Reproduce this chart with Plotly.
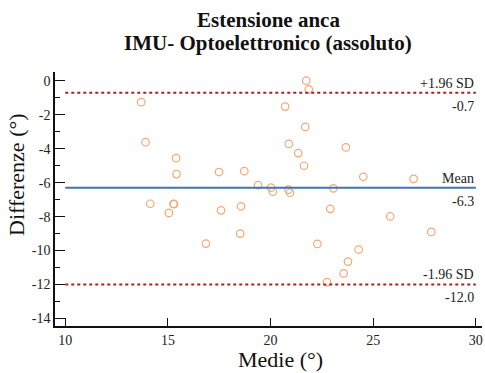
import plotly.graph_objects as go

# Bland-Altman: mean of the two methods vs. their difference
medie = [13.70, 13.91, 15.40, 15.42, 17.49, 18.72, 14.14, 15.27, 15.30, 15.05,
         17.59, 18.56, 18.52, 16.85, 21.74, 21.86, 20.71, 21.69, 20.89, 23.67,
         21.35, 21.63, 24.52, 19.39, 20.02, 20.11, 20.87, 20.95, 23.06, 26.97,
         22.91, 25.83, 22.28, 24.29, 23.77, 23.56, 22.75, 27.83]
differenze = [-1.25, -3.61, -4.55, -5.49, -5.37, -5.32, -7.24, -7.24, -7.26, -7.78,
              -7.63, -7.39, -9.00, -9.59, 0.02, -0.49, -1.51, -2.71, -3.71, -3.92,
              -4.25, -5.00, -5.65, -6.14, -6.29, -6.53, -6.41, -6.59, -6.33, -5.77,
              -7.54, -7.99, -9.61, -9.94, -10.65, -11.35, -11.86, -8.90]

mean_diff = -6.3
upper_loa = -0.7
lower_loa = -12.0
x_span = [10, 30]

x_ticks = [10, 15, 20, 25, 30]
y_ticks = list(range(-14, 1, 2))
y_minor = list(range(-13, 0, 2))

SERIF = "Liberation Serif"
INK = "#111111"
TXT = "#222222"

# plot-area geometry in pixels (used to place free text)
W, H = 485, 373
ML, MR, MT, MB = 55, 3, 72, 47
PW, PH = W - ML - MR, H - MT - MB


def px_to_paper_x(px):
    return (px - ML) / PW


def px_to_paper_y(py):
    return 1 - (py - MT) / PH


fig = go.Figure()

fig.add_trace(go.Scatter(
    x=medie, y=differenze, mode="markers",
    marker=dict(symbol="circle-open", size=7.5, color="#F8A672",
                line=dict(width=1.2, color="#F8A672")),
    showlegend=False, hoverinfo="x+y"))

for val, col, dash in [(upper_loa, "#B01E1E", "dot"),
                       (mean_diff, "#3F74B5", "solid"),
                       (lower_loa, "#B01E1E", "dot")]:
    fig.add_trace(go.Scatter(
        x=x_span, y=[val, val], mode="lines",
        line=dict(color=col, width=2, dash=dash), showlegend=False, hoverinfo="y"))

annots = []
for val, name in [(upper_loa, "+1.96 SD"), (mean_diff, "Mean"), (lower_loa, "-1.96 SD")]:
    annots.append(dict(x=x_span[1], y=val, xref="x", yref="y", text=name,
                       showarrow=False, xanchor="right", yanchor="bottom", yshift=0,
                       font=dict(family=SERIF, size=14, color=TXT)))
    annots.append(dict(x=x_span[1], y=val, xref="x", yref="y", text=f"{val:.1f}",
                       showarrow=False, xanchor="right", yanchor="top", yshift=-4,
                       font=dict(family=SERIF, size=14, color=TXT)))

# two-line bold title
for txt, ypx in [("<b>Estensione anca</b>", 20), ("<b>IMU- Optoelettronico (assoluto)</b>", 43)]:
    annots.append(dict(x=px_to_paper_x(268), y=px_to_paper_y(ypx), xref="paper", yref="paper",
                       text=txt, showarrow=False, yanchor="middle", xanchor="center",
                       font=dict(family=SERIF, size=21, color=INK)))

# axis titles
annots.append(dict(x=px_to_paper_x(280), y=px_to_paper_y(359), xref="paper", yref="paper",
                   text="Medie (°)", showarrow=False, xanchor="center", yanchor="middle",
                   font=dict(family=SERIF, size=22, color=INK)))
annots.append(dict(x=px_to_paper_x(16), y=px_to_paper_y(175), xref="paper", yref="paper",
                   text="Differenze (°)", showarrow=False, xanchor="center", yanchor="middle",
                   textangle=-90, font=dict(family=SERIF, size=22, color=INK)))

fig.update_layout(
    width=W, height=H,
    margin=dict(l=ML, r=MR, t=MT, b=MB),
    paper_bgcolor="white", plot_bgcolor="white",
    font=dict(family=SERIF, color=TXT),
    annotations=annots,
    xaxis=dict(range=[9.5, 30.3], tickvals=x_ticks, ticktext=[str(v) for v in x_ticks],
               ticks="inside", ticklen=8, tickwidth=1, tickcolor=INK,
               showline=True, linecolor=INK, linewidth=1.5, showgrid=False,
               zeroline=False, tickfont=dict(size=14, color=TXT)),
    yaxis=dict(range=[-14.45, 0.53], tickvals=y_ticks, ticktext=[str(v) for v in y_ticks],
               ticks="inside", ticklen=10, tickwidth=1, tickcolor=INK,
               minor=dict(tickvals=y_minor, ticks="inside", ticklen=5, tickcolor=INK),
               showline=True, linecolor=INK, linewidth=1.5, showgrid=False,
               zeroline=False, tickfont=dict(size=14, color=TXT)),
)

fig.write_html("out.html")
